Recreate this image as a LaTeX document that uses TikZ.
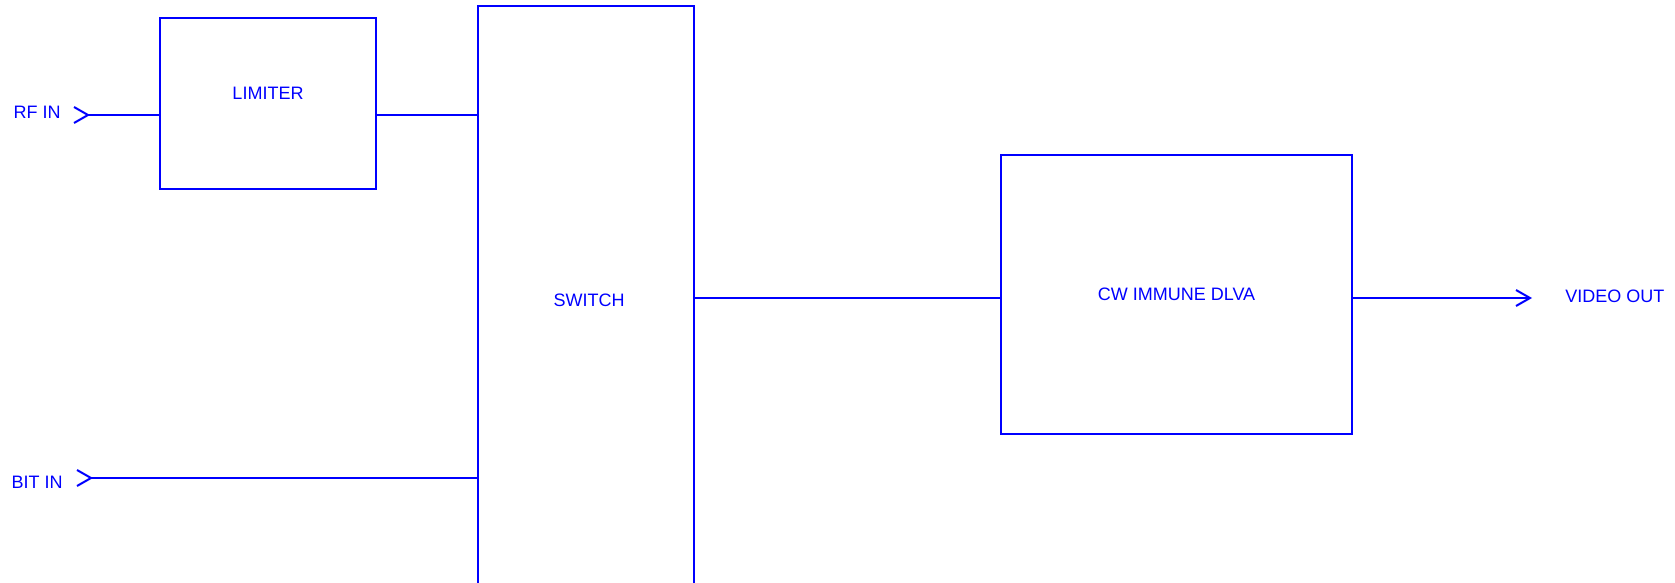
\documentclass[tikz,border=0pt]{standalone}
\usepackage{fontspec}
\setmainfont{Liberation Sans}
\usetikzlibrary{arrows.meta,positioning}
\definecolor{azul}{HTML}{0000FF}
\tikzset{
  bloque/.style={draw=azul,line width=1pt,font=\fontsize{9}{10}\selectfont,text=azul,inner sep=0pt},
  etiqueta/.style={font=\fontsize{9}{10}\selectfont,text=azul,inner sep=0pt},
  linea/.style={azul,line width=1pt},
  entrada/.style={linea,{Straight Barb[reversed,length=7pt,width=8pt]}-},
  salida/.style={linea,-{Straight Barb[length=7pt,width=8pt]}},
}
\begin{document}
\begin{tikzpicture}[x=0.5pt,y=-0.5pt]
  \useasboundingbox (0,0) rectangle (1675,583);
  % bloques
  \node[bloque,minimum width=108pt,minimum height=85.5pt,label={[etiqueta,yshift=5pt]center:LIMITER}] (lim) at (268,103.5) {};
  \node[bloque,minimum width=108pt,minimum height=294pt,text width=108pt,align=center] (sw) at (586,300) {\hspace*{3pt}SWITCH};
  \node[bloque,minimum width=175.5pt,minimum height=139.5pt] (dlva) at (1176.5,294.5) {CW IMMUNE DLVA};
  % entradas y salida
  \coordinate (rf) at (73,115);
  \coordinate (bit) at (76,478);
  \coordinate (vid) at (1532,298);
  \node[etiqueta,left=6pt of rf,yshift=1.5pt] (rflbl) {RF IN};
  \node[etiqueta,left=6.5pt of bit,yshift=-2pt] (bitlbl) {BIT IN};
  \node[etiqueta,right=16.5pt of vid,yshift=1pt] (vidlbl) {VIDEO OUT};
  % conexiones
  \draw[entrada] (rf) -- (rf -| lim.west);
  \draw[linea] (rf -| lim.east) -- (rf -| sw.west);
  \draw[entrada] (bit) -- (bit -| sw.west);
  \draw[linea] (sw.east |- vid) -- (dlva.west |- vid);
  \draw[salida] (dlva.east |- vid) -- (vid);
\end{tikzpicture}
\end{document}
